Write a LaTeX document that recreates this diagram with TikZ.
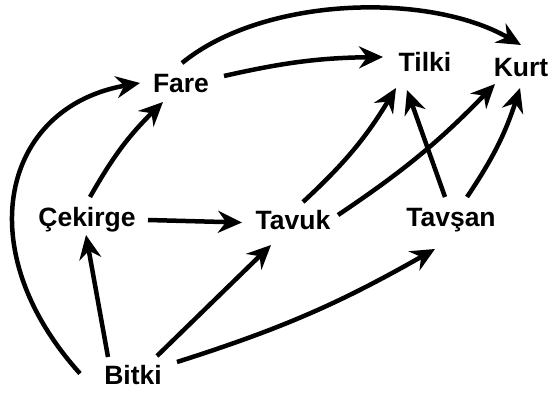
\documentclass[tikz,border=0pt]{standalone}
\usepackage{fontspec}
\setmainfont{Liberation Sans}
\usetikzlibrary{arrows.meta,calc}
\begin{document}
\begin{tikzpicture}[x=1pt,y=1pt,
  lbl/.style={font=\fontsize{26.5}{30}\selectfont\bfseries, inner sep=0pt, text height=19pt, text depth=0pt},
  arr/.style={line width=4.5pt, -{Stealth[length=24pt,width=22pt,inset=8pt]}}]
\useasboundingbox (0,0) rectangle (552,394);
\node[lbl] (Fare) at (181,311) {Fare};
\node[lbl] (Tilki) at (425,332) {Tilki};
\node[lbl] (Kurt) at (521,327) {Kurt};
\node[lbl] (Cekirge) at (87,176.5) {Çekirge};
\node[lbl] (Tavuk) at (293,174) {Tavuk};
\node[lbl] (Tavsan) at (451,176.5) {Tavşan};
\node[lbl] (Bitki) at (133,19.5) {Bitki};
% Bitki -> Fare
\draw[arr] ([shift={(-53,1)}]Bitki.center) .. controls +(-112,124) and +(-138,-24) .. ([shift={(-41,0)}]Fare.center);
% Bitki -> Cekirge
\draw[arr] ([shift={(-25,17.5)}]Bitki.center) -- ([shift={(-1,-17.5)}]Cekirge.center);
% Bitki -> Tavuk
\draw[arr] ([shift={(24,18.5)}]Bitki.center) -- ([shift={(-22,-25)}]Tavuk.center);
% Bitki -> Tavsan
\draw[arr] ([shift={(44,12.5)}]Bitki.center) to[bend right=6] ([shift={(-16,-31.5)}]Tavsan.center);
% Cekirge -> Fare
\draw[arr] ([shift={(3,20.5)}]Cekirge.center) to[bend left=8] ([shift={(-18,-19)}]Fare.center);
% Cekirge -> Tavuk
\draw[arr] ([shift={(61,-2.5)}]Cekirge.center) -- ([shift={(-51,-2.5)}]Tavuk.center);
% Fare -> Tilki
\draw[arr] ([shift={(43,7)}]Fare.center) to[bend left=6] ([shift={(-42,5)}]Tilki.center);
% Fare -> Kurt
\draw[arr] ([shift={(1,20)}]Fare.center) .. controls +(82,67) and +(-92,53) .. ([shift={(0,22)}]Kurt.center);
% Tavuk -> Tilki
\draw[arr] ([shift={(10,18)}]Tavuk.center) to[bend right=8] ([shift={(-29,-26)}]Tilki.center);
% Tavuk -> Kurt
\draw[arr] ([shift={(45,5)}]Tavuk.center) to[bend right=6] ([shift={(-26,-17)}]Kurt.center);
% Tavsan -> Tilki
\draw[arr] ([shift={(-6,20.5)}]Tavsan.center) -- ([shift={(-18,-28)}]Tilki.center);
% Tavsan -> Kurt
\draw[arr] ([shift={(16,20.5)}]Tavsan.center) to[bend right=8] ([shift={(-1,-21)}]Kurt.center);
\end{tikzpicture}
\end{document}
